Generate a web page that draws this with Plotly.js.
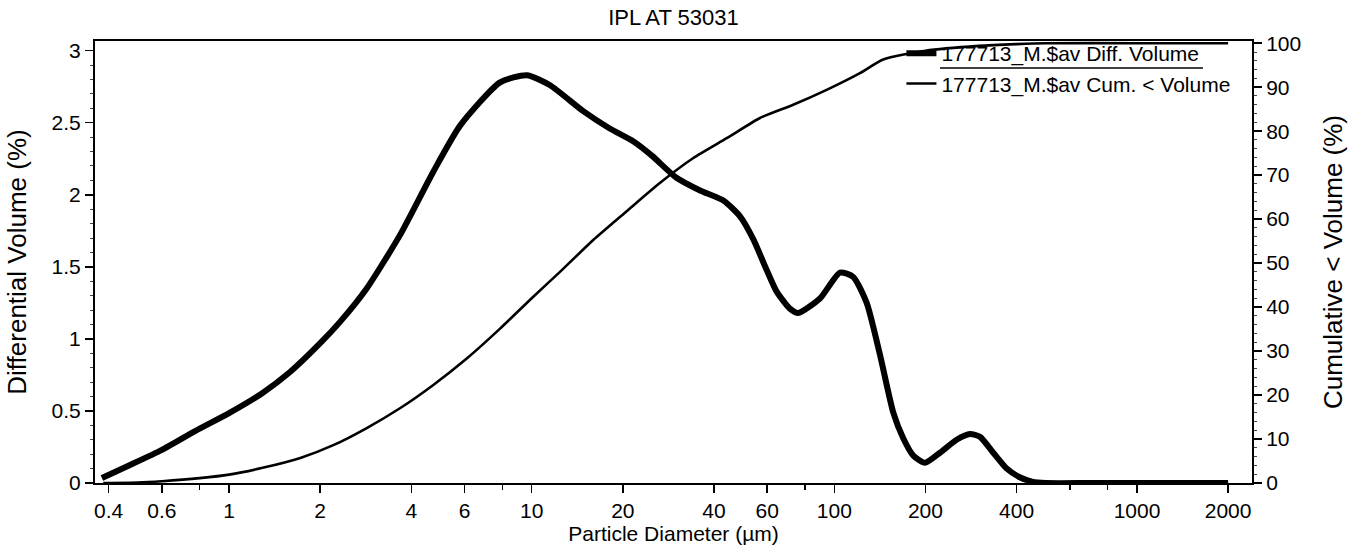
<!DOCTYPE html>
<html>
<head>
<meta charset="utf-8">
<script src="https://cdn.plot.ly/plotly-3.0.1.min.js"></script>
<style>html,body{margin:0;padding:0;background:#fff;}#chart{width:1350px;height:545px;}</style>
</head>
<body>
<div id="chart"></div>
<script>
// Particle diameter (µm) and differential volume (%)
const diffDiameter = [0.38, 0.465, 0.6, 0.772, 1.0, 1.28, 1.59, 2.0, 2.33, 2.85, 3.67, 4.73, 5.8, 7.86, 9.63, 11.5, 14.8, 18.1, 21.7, 25, 30, 36, 43, 48.8, 54, 59.7, 64.4, 71.3, 76, 89.6, 104.4, 115.5, 127.9, 141.5, 156.5, 168.9, 182.3, 199.2, 223.4, 253.5, 280.6, 303, 335, 371, 410, 450, 500, 700, 1000, 1500, 2000];
const diffVolume   = [0.035, 0.12, 0.23, 0.36, 0.485, 0.62, 0.77, 0.97, 1.12, 1.35, 1.72, 2.16, 2.48, 2.78, 2.83, 2.76, 2.58, 2.46, 2.37, 2.27, 2.12, 2.03, 1.96, 1.85, 1.69, 1.48, 1.33, 1.21, 1.18, 1.28, 1.46, 1.43, 1.25, 0.89, 0.49, 0.31, 0.19, 0.14, 0.21, 0.30, 0.34, 0.32, 0.21, 0.10, 0.04, 0.01, 0.0, 0.0, 0.0, 0.0, 0.0];

// Particle diameter (µm) and cumulative < volume (%)
const cumDiameter = [0.384, 0.5, 0.6, 0.8, 1.0, 1.28, 1.72, 2.21, 2.85, 3.67, 4.73, 6.1, 7.86, 10.1, 12.4, 16, 20.6, 26.5, 34.2, 44.1, 56.8, 73.1, 94.3, 121.5, 145, 200, 300, 400, 500, 1000, 2000];
const cumVolume   = [0, 0.1, 0.4, 1.1, 1.9, 3.4, 5.7, 8.6, 12.5, 17.0, 22.3, 28.3, 35.1, 42.3, 48.0, 55.3, 61.8, 68.2, 73.9, 78.4, 83.0, 86.0, 89.4, 93.2, 96.3, 98.3, 99.4, 99.8, 100, 100, 100];

const xTickVals  = [0.4, 0.6, 1, 2, 4, 6, 10, 20, 40, 60, 100, 200, 400, 1000, 2000];
const xTickText  = ["0.4", "0.6", "1", "2", "4", "6", "10", "20", "40", "60", "100", "200", "400", "1000", "2000"];
const xMinorVals = [0.8, 8, 80, 600, 800];
const leftTicks  = [0, 0.5, 1, 1.5, 2, 2.5, 3];
const leftText   = ["0", "0.5", "1", "1.5", "2", "2.5", "3"];
const rightTicks = [0, 10, 20, 30, 40, 50, 60, 70, 80, 90, 100];

const seriesNames = ["177713_M.$av Diff. Volume", "177713_M.$av Cum. < Volume"];

const FAM = "Liberation Sans, Arial, sans-serif";
const font = {family: FAM, size: 21, color: "#000"};
const vfont = {family: FAM, size: 26, color: "#000"};

const traces = [
  {x: diffDiameter, y: diffVolume, name: seriesNames[0], type: "scatter", mode: "lines",
   line: {color: "#000", width: 6, shape: "spline", smoothing: 0.6}, yaxis: "y"},
  {x: cumDiameter, y: cumVolume, name: seriesNames[1], type: "scatter", mode: "lines",
   line: {color: "#000", width: 2.6, shape: "spline", smoothing: 0.6}, yaxis: "y2"}
];

const layout = {
  width: 1350, height: 545,
  margin: {l: 95, r: 98, t: 41, b: 62},
  paper_bgcolor: "#fff", plot_bgcolor: "#fff",
  font: font,
  title: {text: "IPL AT 53031", x: 0.5, xref: "paper", y: 0.969, yanchor: "middle",
          font: {family: FAM, size: 22, color: "#000"}},
  showlegend: true,
  legend: {x: 0.697, xanchor: "left", y: 1.018, yanchor: "top", bgcolor: "rgba(0,0,0,0)",
           font: font, tracegroupgap: 0},
  shapes: [
    {type: "line", xref: "paper", yref: "paper", x0: 0.7303, x1: 0.9576, y0: 0.939, y1: 0.939,
     line: {color: "#000", width: 1.5}}
  ],
  xaxis: {type: "log", range: [-0.443, 3.38], tickmode: "array", tickvals: xTickVals, ticktext: xTickText,
          ticks: "outside", ticklen: 8, tickwidth: 1.5, tickcolor: "#000",
          minor: {tickvals: xMinorVals, ticks: "outside", ticklen: 5, tickwidth: 1.5, tickcolor: "#000"},
          showline: true, linecolor: "#000", linewidth: 2, mirror: true, showgrid: false, zeroline: false,
          title: {text: "Particle Diameter (µm)", font: font, standoff: 0}, tickfont: font},
  yaxis: {range: [0, 3.067], tickmode: "array", tickvals: leftTicks, ticktext: leftText,
          ticks: "outside", ticklen: 8, tickwidth: 1.5, tickcolor: "#000",
          minor: {dtick: 0.1, ticks: "outside", ticklen: 3, tickwidth: 1, tickcolor: "#444"},
          showline: true, linecolor: "#000", linewidth: 2, showgrid: false, zeroline: false,
          title: {text: "Differential Volume (%)", font: vfont, standoff: 17}, tickfont: font},
  yaxis2: {range: [0, 100.5], overlaying: "y", side: "right", tickmode: "array", tickvals: rightTicks,
           ticks: "outside", ticklen: 8, tickwidth: 1.5, tickcolor: "#000",
           minor: {dtick: 2, ticks: "outside", ticklen: 3, tickwidth: 1, tickcolor: "#444"},
           showline: true, linecolor: "#000", linewidth: 2, showgrid: false, zeroline: false,
           title: {text: "Cumulative < Volume (%)", font: vfont, standoff: 24}, tickfont: font}
};

Plotly.newPlot("chart", traces, layout, {displayModeBar: false, staticPlot: true});
</script>
</body>
</html>
